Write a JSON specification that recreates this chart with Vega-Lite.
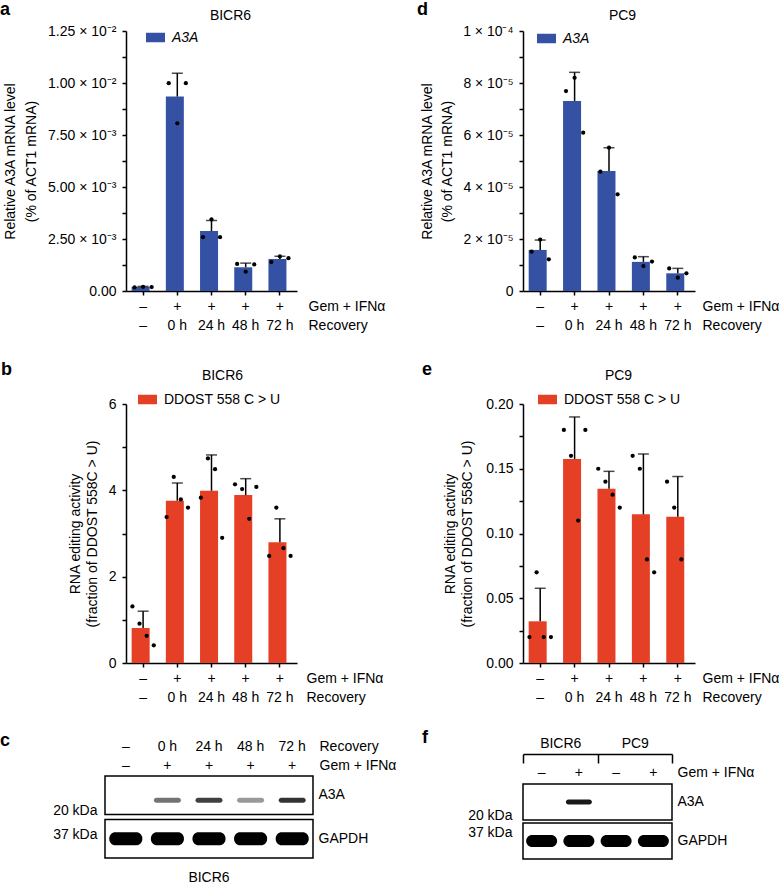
{
  "$schema": "https://vega.github.io/schema/vega-lite/v6.json",
  "padding": {"left": 0, "top": 1, "right": 0, "bottom": 0},
  "config": {
    "font": "Liberation Sans",
    "view": {"stroke": null},
    "axis": {
      "labelFont": "Liberation Sans", "titleFont": "Liberation Sans",
      "labelFontSize": 14, "titleFontSize": 14, "titleFontWeight": "normal",
      "labelColor": "black", "titleColor": "black",
      "domainColor": "black", "tickColor": "black",
      "domainWidth": 1.5, "tickWidth": 1.5, "tickSize": 4,
      "grid": false, "labelOverlap": false, "labelAngle": 0, "labelPadding": 6
    },
    "legend": {
      "orient": "none", "symbolType": "M-1,-0.5H1V0.5H-1Z", "symbolSize": 361,
      "symbolStrokeWidth": 0, "labelFontSize": 14, "labelFont": "Liberation Sans",
      "labelColor": "black", "labelOffset": 7, "padding": 0
    },
    "title": {
      "font": "Liberation Sans", "fontSize": 18, "fontWeight": "bold",
      "anchor": "start", "frame": "group", "color": "black", "offset": -11
    }
  },
  "datasets": {
    "a_bars": [
      {"cond": "–", "gene": "A3A", "mean": 0.00020, "upper": 0.00022},
      {"cond": "0 h", "gene": "A3A", "mean": 0.00935, "upper": 0.01047},
      {"cond": "24 h", "gene": "A3A", "mean": 0.00288, "upper": 0.00339},
      {"cond": "48 h", "gene": "A3A", "mean": 0.00114, "upper": 0.00134},
      {"cond": "72 h", "gene": "A3A", "mean": 0.00154, "upper": 0.00167}
    ],
    "a_dots": [
      {"cond": "–", "rep": 1, "value": 0.00018}, {"cond": "–", "rep": 2, "value": 0.00020}, {"cond": "–", "rep": 3, "value": 0.00019},
      {"cond": "0 h", "rep": 1, "value": 0.00999}, {"cond": "0 h", "rep": 2, "value": 0.00806}, {"cond": "0 h", "rep": 3, "value": 0.00999},
      {"cond": "24 h", "rep": 1, "value": 0.00259}, {"cond": "24 h", "rep": 2, "value": 0.00344}, {"cond": "24 h", "rep": 3, "value": 0.00259},
      {"cond": "48 h", "rep": 1, "value": 0.00130}, {"cond": "48 h", "rep": 2, "value": 0.00093}, {"cond": "48 h", "rep": 3, "value": 0.00128},
      {"cond": "72 h", "rep": 1, "value": 0.00139}, {"cond": "72 h", "rep": 2, "value": 0.00166}, {"cond": "72 h", "rep": 3, "value": 0.00158}
    ],
    "d_bars": [
      {"cond": "–", "gene": "A3A", "mean": 0.0000158, "upper": 0.0000196},
      {"cond": "0 h", "gene": "A3A", "mean": 0.0000731, "upper": 0.0000841},
      {"cond": "24 h", "gene": "A3A", "mean": 0.0000462, "upper": 0.0000551},
      {"cond": "48 h", "gene": "A3A", "mean": 0.0000112, "upper": 0.0000132},
      {"cond": "72 h", "gene": "A3A", "mean": 0.0000068, "upper": 0.0000087}
    ],
    "d_dots": [
      {"cond": "–", "rep": 1, "value": 0.0000151}, {"cond": "–", "rep": 2, "value": 0.0000198}, {"cond": "–", "rep": 3, "value": 0.0000122},
      {"cond": "0 h", "rep": 1, "value": 0.0000769}, {"cond": "0 h", "rep": 2, "value": 0.0000820}, {"cond": "0 h", "rep": 3, "value": 0.0000609},
      {"cond": "24 h", "rep": 1, "value": 0.0000459}, {"cond": "24 h", "rep": 2, "value": 0.0000551}, {"cond": "24 h", "rep": 3, "value": 0.0000372},
      {"cond": "48 h", "rep": 1, "value": 0.0000129}, {"cond": "48 h", "rep": 2, "value": 0.0000096}, {"cond": "48 h", "rep": 3, "value": 0.0000113},
      {"cond": "72 h", "rep": 1, "value": 0.0000087}, {"cond": "72 h", "rep": 2, "value": 0.0000051}, {"cond": "72 h", "rep": 3, "value": 0.0000068}
    ],
    "b_bars": [
      {"cond": "–", "gene": "DDOST 558 C > U", "mean": 0.81, "upper": 1.20},
      {"cond": "0 h", "gene": "DDOST 558 C > U", "mean": 3.76, "upper": 4.17},
      {"cond": "24 h", "gene": "DDOST 558 C > U", "mean": 3.99, "upper": 4.82},
      {"cond": "48 h", "gene": "DDOST 558 C > U", "mean": 3.89, "upper": 4.27},
      {"cond": "72 h", "gene": "DDOST 558 C > U", "mean": 2.80, "upper": 3.34}
    ],
    "b_dots": [
      {"cond": "–", "rep": 1, "value": 1.31}, {"cond": "–", "rep": 2, "value": 0.91}, {"cond": "–", "rep": 3, "value": 0.63}, {"cond": "–", "rep": 4, "value": 0.41},
      {"cond": "0 h", "rep": 1, "value": 3.38}, {"cond": "0 h", "rep": 2, "value": 4.31}, {"cond": "0 h", "rep": 3, "value": 3.79}, {"cond": "0 h", "rep": 4, "value": 3.60},
      {"cond": "24 h", "rep": 1, "value": 3.83}, {"cond": "24 h", "rep": 2, "value": 4.74}, {"cond": "24 h", "rep": 3, "value": 4.49}, {"cond": "24 h", "rep": 4, "value": 2.90},
      {"cond": "48 h", "rep": 1, "value": 4.14}, {"cond": "48 h", "rep": 2, "value": 4.03}, {"cond": "48 h", "rep": 3, "value": 3.34}, {"cond": "48 h", "rep": 4, "value": 4.08},
      {"cond": "72 h", "rep": 1, "value": 2.48}, {"cond": "72 h", "rep": 2, "value": 3.60}, {"cond": "72 h", "rep": 3, "value": 2.66}, {"cond": "72 h", "rep": 4, "value": 2.48}
    ],
    "e_bars": [
      {"cond": "–", "gene": "DDOST 558 C > U", "mean": 0.0322, "upper": 0.0577},
      {"cond": "0 h", "gene": "DDOST 558 C > U", "mean": 0.1575, "upper": 0.190},
      {"cond": "24 h", "gene": "DDOST 558 C > U", "mean": 0.1346, "upper": 0.148},
      {"cond": "48 h", "gene": "DDOST 558 C > U", "mean": 0.1148, "upper": 0.1614},
      {"cond": "72 h", "gene": "DDOST 558 C > U", "mean": 0.1130, "upper": 0.1440}
    ],
    "e_dots": [
      {"cond": "–", "rep": 1, "value": 0.020}, {"cond": "–", "rep": 2, "value": 0.070}, {"cond": "–", "rep": 3, "value": 0.020}, {"cond": "–", "rep": 4, "value": 0.020},
      {"cond": "0 h", "rep": 1, "value": 0.180}, {"cond": "0 h", "rep": 2, "value": 0.160}, {"cond": "0 h", "rep": 3, "value": 0.110}, {"cond": "0 h", "rep": 4, "value": 0.180},
      {"cond": "24 h", "rep": 1, "value": 0.150}, {"cond": "24 h", "rep": 2, "value": 0.140}, {"cond": "24 h", "rep": 3, "value": 0.130}, {"cond": "24 h", "rep": 4, "value": 0.120},
      {"cond": "48 h", "rep": 1, "value": 0.160}, {"cond": "48 h", "rep": 2, "value": 0.150}, {"cond": "48 h", "rep": 3, "value": 0.080}, {"cond": "48 h", "rep": 4, "value": 0.070},
      {"cond": "72 h", "rep": 1, "value": 0.140}, {"cond": "72 h", "rep": 2, "value": 0.120}, {"cond": "72 h", "rep": 3, "value": 0.080}
    ],
    "c_frame": [
      {"cell": "BICR6", "strip": "A3A"},
      {"cell": "BICR6", "strip": "GAPDH"}
    ],
    "c_bands": [
      {"lane": "–", "strip": "A3A", "intensity": 0},
      {"lane": "0 h", "strip": "A3A", "intensity": 0.55},
      {"lane": "24 h", "strip": "A3A", "intensity": 0.75},
      {"lane": "48 h", "strip": "A3A", "intensity": 0.4},
      {"lane": "72 h", "strip": "A3A", "intensity": 0.8},
      {"lane": "–", "strip": "GAPDH", "intensity": 1},
      {"lane": "0 h", "strip": "GAPDH", "intensity": 1},
      {"lane": "24 h", "strip": "GAPDH", "intensity": 1},
      {"lane": "48 h", "strip": "GAPDH", "intensity": 1},
      {"lane": "72 h", "strip": "GAPDH", "intensity": 1}
    ],
    "f_frame": [
      {"strip": "A3A"},
      {"strip": "GAPDH"}
    ],
    "f_bands": [
      {"lane": "BICR6 –", "cell": "BICR6", "treat": "–", "strip": "A3A", "intensity": 0},
      {"lane": "BICR6 +", "cell": "BICR6", "treat": "+", "strip": "A3A", "intensity": 0.9},
      {"lane": "PC9 –", "cell": "PC9", "treat": "–", "strip": "A3A", "intensity": 0},
      {"lane": "PC9 +", "cell": "PC9", "treat": "+", "strip": "A3A", "intensity": 0},
      {"lane": "BICR6 –", "cell": "BICR6", "treat": "–", "strip": "GAPDH", "intensity": 1},
      {"lane": "BICR6 +", "cell": "BICR6", "treat": "+", "strip": "GAPDH", "intensity": 1},
      {"lane": "PC9 –", "cell": "PC9", "treat": "–", "strip": "GAPDH", "intensity": 1},
      {"lane": "PC9 +", "cell": "PC9", "treat": "+", "strip": "GAPDH", "intensity": 1}
    ]
  },
  "columns": 3,
  "align": "each",
  "bounds": "flush",
  "spacing": {"row": 113, "column": 0},
  "resolve": {
    "scale": {"color": "independent", "xOffset": "independent", "opacity": "independent"},
    "legend": {"color": "independent", "opacity": "independent"}
  },
  "concat": [
    {
      "width": 171, "height": 260,
      "title": {"text": "a", "dx": -126},
      "layer": [
        {
          "data": {"name": "a_bars"},
          "mark": {"type": "bar", "width": {"band": 0.67}},
          "encoding": {
            "x": {"field": "cond", "type": "nominal", "scale": {"domain": ["–", "0 h", "24 h", "48 h", "72 h"], "paddingInner": 0, "paddingOuter": 0},
              "axis": {"labelExpr": "datum.value == '–' ? ['–', '–'] : ['+', datum.value]", "labelBaseline": "top", "labelPadding": 4, "labelLineHeight": 19,
                "title": ["Gem + IFNα", "Recovery"], "titleX": 182, "titleY": 8, "titleAlign": "left", "titleBaseline": "top", "titleLineHeight": 19}},
            "y": {"field": "mean", "type": "quantitative", "scale": {"domain": [0, 0.0125], "nice": false},
              "axis": {"values": [0, 0.00125, 0.0025, 0.00375, 0.005, 0.00625, 0.0075, 0.00875, 0.01, 0.01125, 0.0125],
                "labelExpr": "datum.value == 0 ? '0.00' : (round(datum.value / 0.00125) % 2 == 1 ? '' : (datum.value > 0.0099 ? format(datum.value * 100, '.2f') + ' × 10⁻²' : format(datum.value * 1000, '.2f') + ' × 10⁻³'))",
                "title": ["Relative A3A mRNA level", "(% of ACT1 mRNA)"], "titleX": -123, "titleY": 130, "titleAngle": -90, "titleAlign": "center", "titleBaseline": "top", "titleLineHeight": 21}},
            "color": {"field": "gene", "type": "nominal", "scale": {"range": ["#3451a3"]}, "legend": {"title": null, "legendX": 20, "legendY": -3, "labelFontStyle": "italic"}}
          }
        },
        {
          "data": {"name": "a_bars"},
          "mark": {"type": "rule", "color": "black", "strokeWidth": 1.5},
          "encoding": {
            "x": {"field": "cond", "type": "nominal", "scale": {"domain": ["–", "0 h", "24 h", "48 h", "72 h"], "paddingInner": 0, "paddingOuter": 0},
              "axis": {"orient": "top", "domain": false, "ticks": false, "labels": false, "title": "BICR6", "titleX": 104, "titleY": -16, "titleAlign": "center", "titleBaseline": "middle"}},
            "y": {"field": "mean", "type": "quantitative", "scale": {"domain": [0, 0.0125], "nice": false}, "axis": null},
            "y2": {"field": "upper"}
          }
        },
        {
          "data": {"name": "a_bars"},
          "mark": {"type": "tick", "orient": "horizontal", "size": 11, "thickness": 1.5, "color": "black"},
          "encoding": {
            "x": {"field": "cond", "type": "nominal", "scale": {"domain": ["–", "0 h", "24 h", "48 h", "72 h"], "paddingInner": 0, "paddingOuter": 0}, "axis": null},
            "y": {"field": "upper", "type": "quantitative", "scale": {"domain": [0, 0.0125], "nice": false}, "axis": null}
          }
        },
        {
          "data": {"name": "a_dots"},
          "mark": {"type": "point", "filled": true, "color": "black", "size": 18, "opacity": 1},
          "encoding": {
            "x": {"field": "cond", "type": "nominal", "scale": {"domain": ["–", "0 h", "24 h", "48 h", "72 h"], "paddingInner": 0, "paddingOuter": 0}, "axis": null},
            "xOffset": {"field": "rep", "type": "nominal", "scale": {"paddingOuter": 1.2}},
            "y": {"field": "value", "type": "quantitative", "scale": {"domain": [0, 0.0125], "nice": false}, "axis": null}
          }
        }
      ],
      "resolve": {"axis": {"x": "independent", "y": "independent"}}
    },
    {"width": 210, "height": 1, "data": {"values": []}, "mark": "point"},
    {
      "width": 172, "height": 260,
      "title": {"text": "d", "dx": -106},
      "layer": [
        {
          "data": {"name": "d_bars"},
          "mark": {"type": "bar", "width": {"band": 0.67}},
          "encoding": {
            "x": {"field": "cond", "type": "nominal", "scale": {"domain": ["–", "0 h", "24 h", "48 h", "72 h"], "paddingInner": 0, "paddingOuter": 0},
              "axis": {"labelExpr": "datum.value == '–' ? ['–', '–'] : ['+', datum.value]", "labelBaseline": "top", "labelPadding": 4, "labelLineHeight": 19,
                "title": ["Gem + IFNα", "Recovery"], "titleX": 179, "titleY": 8, "titleAlign": "left", "titleBaseline": "top", "titleLineHeight": 19}},
            "y": {"field": "mean", "type": "quantitative", "scale": {"domain": [0, 0.0001], "nice": false},
              "axis": {"values": [0, 0.00001, 0.00002, 0.00003, 0.00004, 0.00005, 0.00006, 0.00007, 0.00008, 0.00009, 0.0001],
                "labelExpr": "round(datum.value * 100000) == 0 ? '0' : (round(datum.value * 100000) % 2 == 1 ? '' : (round(datum.value * 100000) == 10 ? '1 × 10⁻⁴' : round(datum.value * 100000) + ' × 10⁻⁵'))",
                "title": ["Relative A3A mRNA level", "(% of ACT1 mRNA)"], "titleX": -103, "titleY": 130, "titleAngle": -90, "titleAlign": "center", "titleBaseline": "top", "titleLineHeight": 20}},
            "color": {"field": "gene", "type": "nominal", "scale": {"range": ["#3451a3"]}, "legend": {"title": null, "legendX": 14, "legendY": -2, "labelFontStyle": "italic"}}
          }
        },
        {
          "data": {"name": "d_bars"},
          "mark": {"type": "rule", "color": "black", "strokeWidth": 1.5},
          "encoding": {
            "x": {"field": "cond", "type": "nominal", "scale": {"domain": ["–", "0 h", "24 h", "48 h", "72 h"], "paddingInner": 0, "paddingOuter": 0},
              "axis": {"orient": "top", "domain": false, "ticks": false, "labels": false, "title": "PC9", "titleX": 99, "titleY": -16, "titleAlign": "center", "titleBaseline": "middle"}},
            "y": {"field": "mean", "type": "quantitative", "scale": {"domain": [0, 0.0001], "nice": false}, "axis": null},
            "y2": {"field": "upper"}
          }
        },
        {
          "data": {"name": "d_bars"},
          "mark": {"type": "tick", "orient": "horizontal", "size": 11, "thickness": 1.5, "color": "black"},
          "encoding": {
            "x": {"field": "cond", "type": "nominal", "scale": {"domain": ["–", "0 h", "24 h", "48 h", "72 h"], "paddingInner": 0, "paddingOuter": 0}, "axis": null},
            "y": {"field": "upper", "type": "quantitative", "scale": {"domain": [0, 0.0001], "nice": false}, "axis": null}
          }
        },
        {
          "data": {"name": "d_dots"},
          "mark": {"type": "point", "filled": true, "color": "black", "size": 18, "opacity": 1},
          "encoding": {
            "x": {"field": "cond", "type": "nominal", "scale": {"domain": ["–", "0 h", "24 h", "48 h", "72 h"], "paddingInner": 0, "paddingOuter": 0}, "axis": null},
            "xOffset": {"field": "rep", "type": "nominal", "scale": {"paddingOuter": 1.8}},
            "y": {"field": "value", "type": "quantitative", "scale": {"domain": [0, 0.0001], "nice": false}, "axis": null}
          }
        }
      ],
      "resolve": {"axis": {"x": "independent", "y": "independent"}}
    },
    {
      "width": 171, "height": 259,
      "title": {"text": "b", "dx": -125},
      "layer": [
        {
          "data": {"name": "b_bars"},
          "mark": {"type": "bar", "width": {"band": 0.67}},
          "encoding": {
            "x": {"field": "cond", "type": "nominal", "scale": {"domain": ["–", "0 h", "24 h", "48 h", "72 h"], "paddingInner": 0, "paddingOuter": 0},
              "axis": {"labelExpr": "datum.value == '–' ? ['–', '–'] : ['+', datum.value]", "labelBaseline": "top", "labelPadding": 4, "labelLineHeight": 19,
                "title": ["Gem + IFNα", "Recovery"], "titleX": 180, "titleY": 8, "titleAlign": "left", "titleBaseline": "top", "titleLineHeight": 19}},
            "y": {"field": "mean", "type": "quantitative", "scale": {"domain": [0, 6], "nice": false},
              "axis": {"values": [0, 1, 2, 3, 4, 5, 6], "labelExpr": "datum.value % 2 == 1 ? '' : datum.label",
                "title": ["RNA editing activity", "(fraction of DDOST 558C > U)"], "titleX": -58, "titleY": 129.5, "titleAngle": -90, "titleAlign": "center", "titleBaseline": "top", "titleLineHeight": 17}},
            "color": {"field": "gene", "type": "nominal", "scale": {"range": ["#e53f26"]}, "legend": {"title": null, "legendX": 12, "legendY": -14}}
          }
        },
        {
          "data": {"name": "b_bars"},
          "mark": {"type": "rule", "color": "black", "strokeWidth": 1.5},
          "encoding": {
            "x": {"field": "cond", "type": "nominal", "scale": {"domain": ["–", "0 h", "24 h", "48 h", "72 h"], "paddingInner": 0, "paddingOuter": 0},
              "axis": {"orient": "top", "domain": false, "ticks": false, "labels": false, "title": "BICR6", "titleX": 96, "titleY": -29, "titleAlign": "center", "titleBaseline": "middle"}},
            "y": {"field": "mean", "type": "quantitative", "scale": {"domain": [0, 6], "nice": false}, "axis": null},
            "y2": {"field": "upper"}
          }
        },
        {
          "data": {"name": "b_bars"},
          "mark": {"type": "tick", "orient": "horizontal", "size": 11, "thickness": 1.5, "color": "black"},
          "encoding": {
            "x": {"field": "cond", "type": "nominal", "scale": {"domain": ["–", "0 h", "24 h", "48 h", "72 h"], "paddingInner": 0, "paddingOuter": 0}, "axis": null},
            "y": {"field": "upper", "type": "quantitative", "scale": {"domain": [0, 6], "nice": false}, "axis": null}
          }
        },
        {
          "data": {"name": "b_dots"},
          "mark": {"type": "point", "filled": true, "color": "black", "size": 18, "opacity": 1},
          "encoding": {
            "x": {"field": "cond", "type": "nominal", "scale": {"domain": ["–", "0 h", "24 h", "48 h", "72 h"], "paddingInner": 0, "paddingOuter": 0}, "axis": null},
            "xOffset": {"field": "rep", "type": "nominal", "scale": {"paddingOuter": 0.9}},
            "y": {"field": "value", "type": "quantitative", "scale": {"domain": [0, 6], "nice": false}, "axis": null}
          }
        }
      ],
      "resolve": {"axis": {"x": "independent", "y": "independent"}}
    },
    {"width": 210, "height": 1, "data": {"values": []}, "mark": "point"},
    {
      "width": 172, "height": 259,
      "title": {"text": "e", "dx": -101},
      "layer": [
        {
          "data": {"name": "e_bars"},
          "mark": {"type": "bar", "width": {"band": 0.67}},
          "encoding": {
            "x": {"field": "cond", "type": "nominal", "scale": {"domain": ["–", "0 h", "24 h", "48 h", "72 h"], "paddingInner": 0, "paddingOuter": 0},
              "axis": {"labelExpr": "datum.value == '–' ? ['–', '–'] : ['+', datum.value]", "labelBaseline": "top", "labelPadding": 4, "labelLineHeight": 19,
                "title": ["Gem + IFNα", "Recovery"], "titleX": 179, "titleY": 8, "titleAlign": "left", "titleBaseline": "top", "titleLineHeight": 19}},
            "y": {"field": "mean", "type": "quantitative", "scale": {"domain": [0, 0.2], "nice": false},
              "axis": {"values": [0, 0.025, 0.05, 0.075, 0.1, 0.125, 0.15, 0.175, 0.2], "labelExpr": "round(datum.value * 40) % 2 == 1 ? '' : format(datum.value, '.2f')",
                "title": ["RNA editing activity", "(fraction of DDOST 558C > U)"], "titleX": -80, "titleY": 129.5, "titleAngle": -90, "titleAlign": "center", "titleBaseline": "top", "titleLineHeight": 17}},
            "color": {"field": "gene", "type": "nominal", "scale": {"range": ["#e53f26"]}, "legend": {"title": null, "legendX": 15, "legendY": -14}}
          }
        },
        {
          "data": {"name": "e_bars"},
          "mark": {"type": "rule", "color": "black", "strokeWidth": 1.5},
          "encoding": {
            "x": {"field": "cond", "type": "nominal", "scale": {"domain": ["–", "0 h", "24 h", "48 h", "72 h"], "paddingInner": 0, "paddingOuter": 0},
              "axis": {"orient": "top", "domain": false, "ticks": false, "labels": false, "title": "PC9", "titleX": 95, "titleY": -29, "titleAlign": "center", "titleBaseline": "middle"}},
            "y": {"field": "mean", "type": "quantitative", "scale": {"domain": [0, 0.2], "nice": false}, "axis": null},
            "y2": {"field": "upper"}
          }
        },
        {
          "data": {"name": "e_bars"},
          "mark": {"type": "tick", "orient": "horizontal", "size": 11, "thickness": 1.5, "color": "black"},
          "encoding": {
            "x": {"field": "cond", "type": "nominal", "scale": {"domain": ["–", "0 h", "24 h", "48 h", "72 h"], "paddingInner": 0, "paddingOuter": 0}, "axis": null},
            "y": {"field": "upper", "type": "quantitative", "scale": {"domain": [0, 0.2], "nice": false}, "axis": null}
          }
        },
        {
          "data": {"name": "e_dots"},
          "mark": {"type": "point", "filled": true, "color": "black", "size": 18, "opacity": 1},
          "encoding": {
            "x": {"field": "cond", "type": "nominal", "scale": {"domain": ["–", "0 h", "24 h", "48 h", "72 h"], "paddingInner": 0, "paddingOuter": 0}, "axis": null},
            "xOffset": {"field": "rep", "type": "nominal", "scale": {"paddingOuter": 0.9}},
            "y": {"field": "value", "type": "quantitative", "scale": {"domain": [0, 0.2], "nice": false}, "axis": null}
          }
        }
      ],
      "resolve": {"axis": {"x": "independent", "y": "independent"}}
    },
    {
      "width": 187, "height": 82,
      "title": {"text": "c", "dx": -126},
      "layer": [
        {
          "data": {"name": "c_frame"},
          "mark": {"type": "rect", "filled": false, "color": "black", "strokeWidth": 1.5},
          "encoding": {
            "x": {"field": "cell", "type": "nominal", "scale": {"range": [-21, 187], "paddingInner": 0, "paddingOuter": 0},
              "axis": {"orient": "bottom", "domain": false, "ticks": false, "title": null, "labelBaseline": "top", "labelPadding": 12}},
            "y": {"field": "strip", "type": "nominal", "scale": {"domain": ["A3A", "GAPDH"], "paddingInner": 0.115, "paddingOuter": 0},
              "axis": {"orient": "left", "domain": false, "ticks": false, "title": null, "labelPadding": 29,
                "labelExpr": "datum.value == 'A3A' ? '20 kDa' : '37 kDa'",
                "labelOffset": {"condition": {"test": "datum.value == 'A3A'", "value": 16}, "value": -4}}}
          }
        },
        {
          "data": {"name": "c_bands"},
          "transform": [{"filter": "datum.strip == 'GAPDH'"}],
          "mark": {"type": "rect", "width": 33, "height": 13, "cornerRadius": 6, "color": "black"},
          "encoding": {
            "x": {"field": "lane", "type": "nominal", "scale": {"domain": ["–", "0 h", "24 h", "48 h", "72 h"], "range": [-21, 187], "paddingInner": 0, "paddingOuter": 0},
              "axis": {"orient": "top", "domain": false, "ticks": false, "labelExpr": "datum.value == '–' ? ['–', '–'] : [datum.value, '+']",
                "labelBaseline": "top", "labelPadding": 37, "labelLineHeight": 19,
                "title": ["Recovery", "Gem + IFNα"], "titleX": 193, "titleY": -37, "titleAlign": "left", "titleBaseline": "top", "titleLineHeight": 19}},
            "y": {"field": "strip", "type": "nominal", "scale": {"domain": ["A3A", "GAPDH"], "paddingInner": 0.115, "paddingOuter": 0},
              "axis": {"orient": "right", "domain": false, "ticks": false, "title": null, "labelPadding": 5}},
            "opacity": {"field": "intensity", "type": "quantitative", "scale": {"domain": [0, 1], "range": [0, 1]}, "legend": null}
          }
        },
        {
          "data": {"name": "c_bands"},
          "transform": [{"filter": "datum.strip == 'A3A'"}],
          "mark": {"type": "rect", "width": 27, "height": 5, "cornerRadius": 2.5, "color": "black", "yOffset": 5},
          "encoding": {
            "x": {"field": "lane", "type": "nominal", "scale": {"domain": ["–", "0 h", "24 h", "48 h", "72 h"], "range": [-21, 187], "paddingInner": 0, "paddingOuter": 0}, "axis": null},
            "y": {"field": "strip", "type": "nominal", "scale": {"domain": ["A3A", "GAPDH"], "paddingInner": 0.115, "paddingOuter": 0}, "axis": null},
            "opacity": {"field": "intensity", "type": "quantitative", "scale": {"domain": [0, 1], "range": [0, 1]}, "legend": null}
          }
        }
      ],
      "resolve": {"scale": {"x": "independent"}, "axis": {"x": "independent", "y": "independent"}}
    },
    {"width": 210, "height": 1, "data": {"values": []}, "mark": "point"},
    {
      "width": 149, "height": 83,
      "title": {"text": "f", "dx": -101},
      "layer": [
        {
          "data": {"name": "f_frame"},
          "mark": {"type": "rect", "filled": false, "color": "black", "strokeWidth": 1.5},
          "encoding": {
            "y": {"field": "strip", "type": "nominal", "scale": {"domain": ["A3A", "GAPDH"], "paddingInner": 0.077, "paddingOuter": 0.1026, "align": 1},
              "axis": {"orient": "left", "domain": false, "ticks": false, "title": null, "labelPadding": 11,
                "labelExpr": "datum.value == 'A3A' ? '20 kDa' : '37 kDa'",
                "labelOffset": {"condition": {"test": "datum.value == 'A3A'", "value": 14}, "value": -8}}}
          }
        },
        {
          "data": {"name": "f_bands"},
          "transform": [{"filter": "datum.strip == 'GAPDH'"}],
          "mark": {"type": "rect", "width": 31, "height": 12, "cornerRadius": 6, "color": "black"},
          "encoding": {
            "x": {"field": "lane", "type": "nominal", "scale": {"domain": ["BICR6 –", "BICR6 +", "PC9 –", "PC9 +"], "paddingInner": 0, "paddingOuter": 0},
              "axis": {"orient": "top", "domain": false, "ticks": false, "labelExpr": "split(datum.value, ' ')[1]", "labelBaseline": "middle", "labelPadding": 4,
                "title": "Gem + IFNα", "titleX": 154, "titleY": -4, "titleAlign": "left", "titleBaseline": "middle"}},
            "y": {"field": "strip", "type": "nominal", "scale": {"domain": ["A3A", "GAPDH"], "paddingInner": 0.077, "paddingOuter": 0.1026, "align": 1},
              "axis": {"orient": "right", "domain": false, "ticks": false, "title": null, "labelPadding": 5}},
            "opacity": {"field": "intensity", "type": "quantitative", "scale": {"domain": [0, 1], "range": [0, 1]}, "legend": null}
          }
        },
        {
          "data": {"name": "f_bands"},
          "transform": [{"filter": "datum.strip == 'A3A'"}],
          "mark": {"type": "rect", "width": 26, "height": 5, "cornerRadius": 2.5, "color": "black"},
          "encoding": {
            "x": {"field": "cell", "type": "nominal", "scale": {"domain": ["BICR6", "PC9"], "paddingInner": 0, "paddingOuter": 0},
              "axis": {"orient": "top", "offset": 22, "domain": true, "ticks": true, "tickBand": "extent", "tickSize": -9, "labelPadding": 13, "title": null}},
            "xOffset": {"field": "treat", "type": "nominal", "scale": {"domain": ["–", "+"], "paddingInner": 0, "paddingOuter": 0}},
            "y": {"field": "strip", "type": "nominal", "scale": {"domain": ["A3A", "GAPDH"], "paddingInner": 0.077, "paddingOuter": 0.1026, "align": 1}, "axis": null},
            "opacity": {"field": "intensity", "type": "quantitative", "scale": {"domain": [0, 1], "range": [0, 1]}, "legend": null}
          }
        }
      ],
      "resolve": {"scale": {"x": "independent"}, "axis": {"x": "independent", "y": "independent"}}
    }
  ]
}
